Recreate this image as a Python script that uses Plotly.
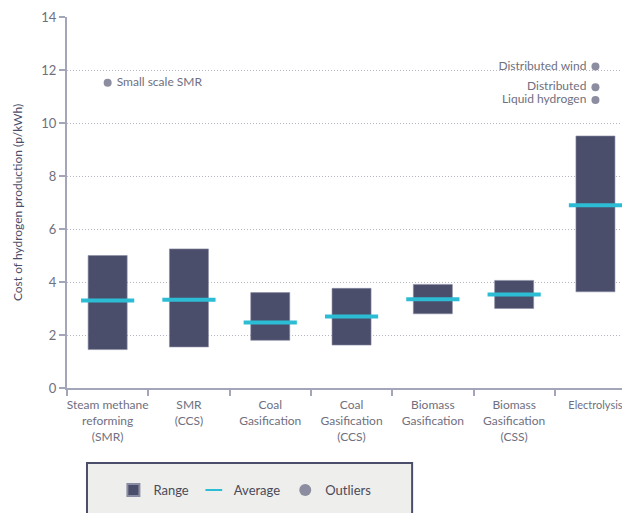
import plotly.graph_objects as go

# categories and values
categories = [
    "Steam methane<br>reforming<br>(SMR)",
    "SMR<br>(CCS)",
    "Coal<br>Gasification",
    "Coal<br>Gasification<br>(CCS)",
    "Biomass<br>Gasification",
    "Biomass<br>Gasification<br>(CSS)",
    "<span style='font-size:11px'>Electrolysis</span>",
]
range_low = [1.45, 1.55, 1.8, 1.62, 2.8, 3.0, 3.63]
range_high = [5.0, 5.25, 3.6, 3.76, 3.91, 4.06, 9.51]
average = [3.3, 3.33, 2.47, 2.7, 3.35, 3.53, 6.9]

outlier_cat = [categories[0], categories[6], categories[6], categories[6]]
outlier_val = [11.52, 12.13, 11.35, 10.87]
outlier_text = ["Small scale SMR", "Distributed wind", "Distributed", "Liquid hydrogen"]
outlier_pos = ["middle right", "middle left", "middle left", "middle left"]

NAVY = "#4b4e6b"
CYAN = "#2cbdd5"
GREY = "#8c8da1"
TEXT = "#6f6f80"
FONT = "Lato"

fig = go.Figure()

fig.add_trace(go.Bar(
    x=categories,
    y=[h - l for h, l in zip(range_high, range_low)],
    base=range_low,
    width=0.48,
    name="Range",
    marker=dict(color=NAVY, line=dict(color="#8a8ca3", width=0.6)),
))

fig.add_trace(go.Scatter(
    x=categories,
    y=average,
    mode="markers",
    name="Average",
    marker=dict(symbol="line-ew", size=38, color=CYAN, line=dict(color=CYAN, width=4)),
))

fig.add_trace(go.Scatter(
    x=outlier_cat,
    y=outlier_val,
    mode="markers+text",
    name="Outliers",
    text=[" " + t + " " for t in outlier_text],
    textposition=outlier_pos,
    textfont=dict(family=FONT, size=12, color=TEXT),
    marker=dict(size=8, color=GREY),
))

# legend frame
fig.add_shape(
    type="rect", xref="paper", yref="paper",
    x0=0.0355, x1=0.613, y0=-0.202, y1=-0.37,
    fillcolor="#eeeeec", line=dict(color=NAVY, width=2), layer="below",
)

# page body adds 8px margin, so figure is 8px smaller than the window
fig.update_layout(
    width=622,
    height=505,
    margin=dict(l=59, r=0, t=9, b=125),
    paper_bgcolor="white",
    plot_bgcolor="white",
    font=dict(family=FONT, size=12, color=TEXT),
    showlegend=True,
    legend=dict(
        orientation="h",
        x=0.316, xanchor="center",
        y=-0.275, yanchor="middle",
        bgcolor="rgba(0,0,0,0)",
        font=dict(family=FONT, size=13, color="#4a4a58"),
        itemsizing="constant",
        itemclick=False,
    ),
    bargap=0.5,
)

fig.update_xaxes(
    range=[-0.5, 6.425],
    automargin=False,
    tickangle=0,
    showgrid=False,
    showline=True,
    linecolor="#a3a5b8",
    linewidth=2,
    ticks="outside",
    tickson="boundaries",
    ticklen=6,
    tickcolor="#a3a5b8",
    tickwidth=2,
    ticklabelstandoff=5,
    tickfont=dict(family=FONT, size=12, color=TEXT),
)

fig.update_yaxes(
    range=[0, 14],
    dtick=2,
    automargin=False,
    showgrid=True,
    gridcolor="#b5b6c4",
    griddash="1px,2px",
    gridwidth=1,
    zeroline=False,
    showline=True,
    linecolor="#a3a5b8",
    linewidth=2,
    ticks="outside",
    ticklen=6,
    tickcolor="#a3a5b8",
    tickwidth=2,
    tickfont=dict(family=FONT, size=13, color=TEXT),
    title=dict(
        text="Cost of hydrogen production (p/kWh)",
        font=dict(family=FONT, size=12, color=NAVY),
        standoff=16,
    ),
)

fig.write_html("out.html")
